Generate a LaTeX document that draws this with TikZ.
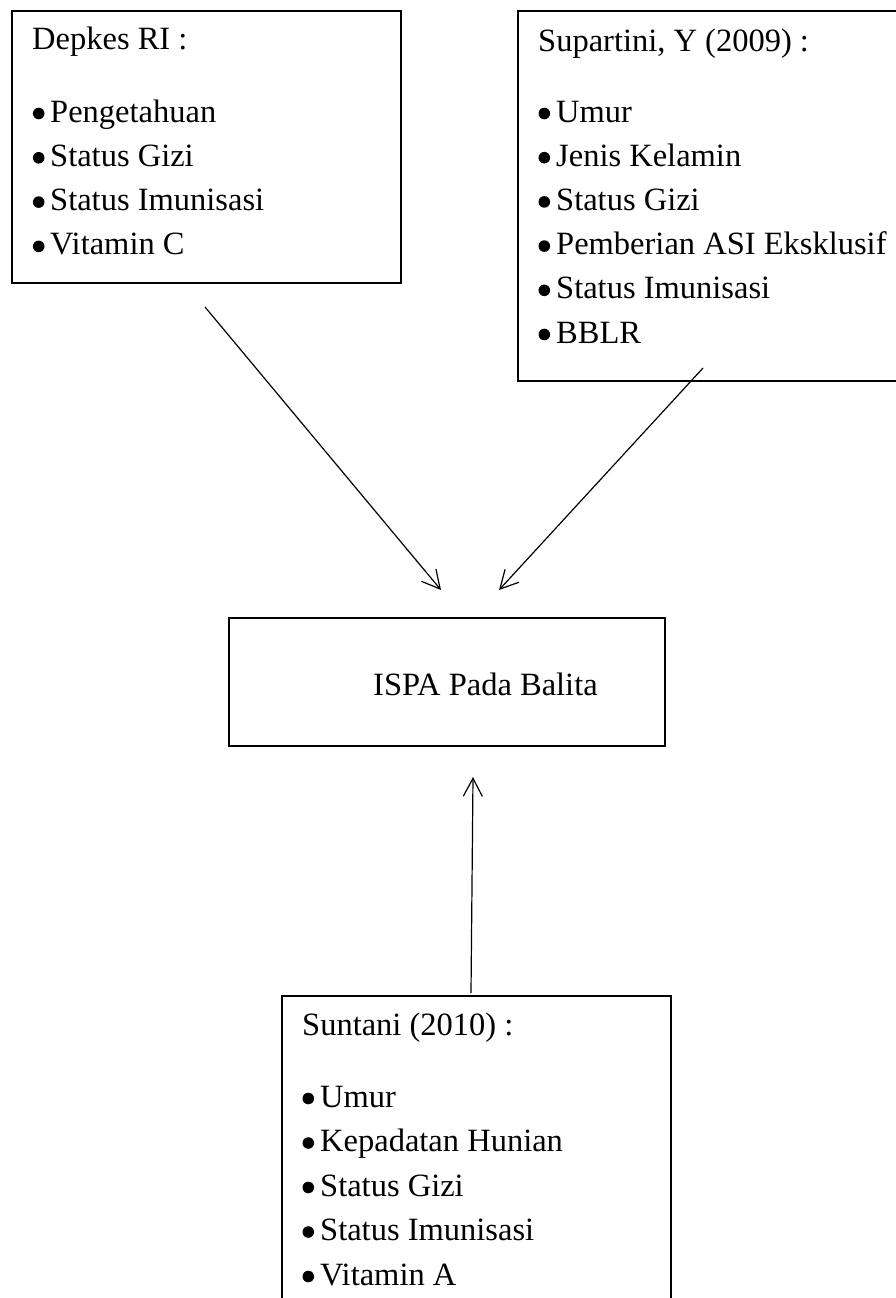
\documentclass[tikz,border=0pt]{standalone}
\usepackage{fontspec}
\setmainfont{Liberation Serif}
\usetikzlibrary{arrows.meta}
\begin{document}
\begin{tikzpicture}[x=1pt,y=-1pt,
  box/.style={draw,line width=1.6pt,rectangle,inner sep=0pt,anchor=north west},
  txt/.style={anchor=base west,inner sep=0pt,font=\fontsize{32.5}{44}\selectfont},
  dot/.style={fill=black},
  link/.style={line width=1.2pt,-{Straight Barb[length=18pt,width=19pt,line width=1.2pt]}}]
\useasboundingbox (0,0) rectangle (896,1298);
% boxes
\node[box,minimum width=389,minimum height=272] (dep) at (11,10) {};
\node[box,minimum width=420,minimum height=370] (sup) at (517,10) {};
\node[box,minimum width=436,minimum height=128] (ispa) at (228,617) {};
\node[box,minimum width=389,minimum height=420] (sun) at (281,995) {};
% texts
\node[txt] (depT) at (32,50) {Depkes RI :};
\foreach [count=\i] \t in {Pengetahuan,Status Gizi,Status Imunisasi,Vitamin C}{
  \fill[dot] (38.7,{122+44.3*(\i-1)-8.5}) circle[radius=5.8pt];
  \node[txt] (d\i) at (50,{122+44.3*(\i-1)}) {\t};}
\node[txt] (supT) at (538,52) {Supartini, Y (2009) :};
\foreach [count=\i] \t in {Umur,Jenis Kelamin,Status Gizi,Pemberian ASI Eksklusif,Status Imunisasi,BBLR}{
  \fill[dot] (544.3,{122+44.2*(\i-1)-8.5}) circle[radius=5.8pt];
  \node[txt] (s\i) at (556,{122+44.2*(\i-1)}) {\t};}
\node[txt] (ispaT) at (373,695) {ISPA Pada Balita};
\node[txt] (sunT) at (302,1035) {Suntani (2010) :};
\foreach [count=\i] \t in {Umur,Kepadatan Hunian,Status Gizi,Status Imunisasi,Vitamin A}{
  \fill[dot] (308.3,{1107+44.5*(\i-1)-8.5}) circle[radius=5.8pt];
  \node[txt] (u\i) at (320,{1107+44.5*(\i-1)}) {\t};}
% arrow ends
\coordinate (a1s) at (205,307);
\coordinate (a1e) at (441,590);
\coordinate (a2s) at (703,368);
\coordinate (a2e) at (499,590);
\coordinate (a3s) at (471,993);
\coordinate (a3e) at (473,777);
\draw[link] (a1s) -- (a1e);
\draw[link] (a2s) -- (a2e);
\draw[link] (a3s) -- (a3e);
\end{tikzpicture}
\end{document}
